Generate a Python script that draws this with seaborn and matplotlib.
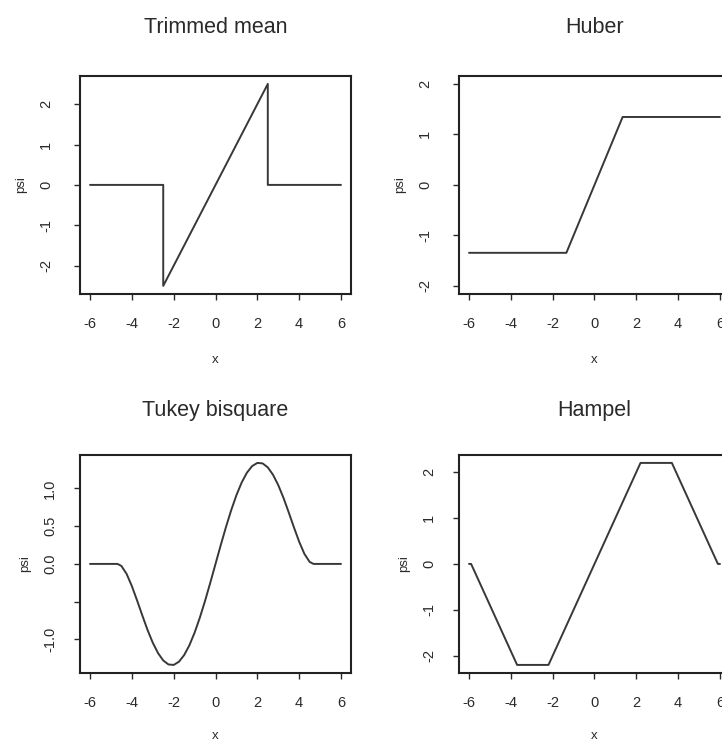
"""
Psi functions of four robust M-estimators, 2x2 panels in R base style
"""

# Dependencies
import matplotlib
matplotlib.use('Agg')
import matplotlib.pyplot as plt
import seaborn as sns

# Data
trim_x = [-6, -2.5, -2.5, 2.5, 2.5, 6]
trim_y = [0, 0, -2.5, 2.5, 0, 0]

huber_x = [-6, -1.345, 1.345, 6]
huber_y = [-1.345, -1.345, 1.345, 1.345]

tukey_x = [-6, -5.5, -5, -4.685, -4.5, -4.25, -4, -3.75, -3.5, -3.25, -3, -2.75,
           -2.5, -2.25, -2, -1.75, -1.5, -1.25, -1, -0.75, -0.5, -0.25, 0,
           0.25, 0.5, 0.75, 1, 1.25, 1.5, 1.75, 2, 2.25, 2.5, 2.75, 3, 3.25,
           3.5, 3.75, 4, 4.25, 4.5, 4.685, 5, 5.5, 6]
tukey_y = [0, 0, 0, 0, -0.027, -0.133, -0.294, -0.484, -0.683, -0.875, -1.044, -1.181,
           -1.279, -1.332, -1.338, -1.296, -1.208, -1.078, -0.911, -0.712, -0.489, -0.249, 0,
           0.249, 0.489, 0.712, 0.911, 1.078, 1.208, 1.296, 1.338, 1.332, 1.279, 1.181, 1.044, 0.875,
           0.683, 0.484, 0.294, 0.133, 0.027, 0, 0, 0, 0]

hampel_x = [-6, -5.9, -3.7, -2.2, 2.2, 3.7, 5.9, 6]
hampel_y = [0, 0, -2.2, -2.2, 2.2, 2.2, 0, 0]

x_ticks = [-6, -4, -2, 0, 2, 4, 6]
panels = [
    ('Trimmed mean', trim_x, trim_y, (-2.7, 2.7), [-2, -1, 0, 1, 2], ['-2', '-1', '0', '1', '2']),
    ('Huber', huber_x, huber_y, (-2.16, 2.16), [-2, -1, 0, 1, 2], ['-2', '-1', '0', '1', '2']),
    ('Tukey bisquare', tukey_x, tukey_y, (-1.445, 1.445), [-1, -0.5, 0, 0.5, 1], ['-1.0', '', '0.0', '0.5', '1.0']),
    ('Hampel', hampel_x, hampel_y, (-2.376, 2.376), [-2, -1, 0, 1, 2], ['-2', '-1', '0', '1', '2']),
]

# Style
sns.set_style('ticks')
plt.rcParams['font.family'] = ['Liberation Sans', 'DejaVu Sans']
plt.rcParams['axes.unicode_minus'] = False
text_col = '#2a2a2a'

fig = plt.figure(figsize=(7.22, 7.42), dpi=100)
w, h = 0.3754, 0.294
positions = [(0.1108, 0.6038), (0.6357, 0.6038), (0.1108, 0.0930), (0.6357, 0.0930)]
title_pads = [31, 31, 28, 28]
ytick_pads = [15, 15, 12, 12]
xlabel_pads = [17, 17, 15, 15]

for (title, xs, ys, ylim, yt, ytl), (l, b), tp, yp, xp in zip(panels, positions, title_pads,
                                                              ytick_pads, xlabel_pads):
    ax = fig.add_axes([l, b, w, h])
    sns.lineplot(x=xs, y=ys, ax=ax, sort=False, estimator=None,
                 color='#383838', linewidth=1.4)
    ax.set_xlim(-6.48, 6.48)
    ax.set_ylim(*ylim)
    ax.set_xticks(x_ticks)
    ax.set_xticklabels([str(t) for t in x_ticks])
    ax.set_yticks(yt)
    ax.set_yticklabels(ytl, rotation=90, va='center')
    ax.tick_params(axis='both', direction='out', length=4.3, width=1.0,
                   colors=text_col, labelsize=10.5)
    ax.tick_params(axis='x', pad=12)
    ax.tick_params(axis='y', pad=yp)
    for s in ax.spines.values():
        s.set_visible(True)
        s.set_linewidth(1.5)
        s.set_color('#222222')
    ax.set_title(title, fontsize=15.5, color=text_col, pad=tp)
    ax.set_xlabel('x', fontsize=9.5, color=text_col, labelpad=xp)
    ax.set_ylabel('psi', fontsize=9.5, color=text_col, labelpad=9)

fig.savefig('out.png', dpi=100)
plt.close()
